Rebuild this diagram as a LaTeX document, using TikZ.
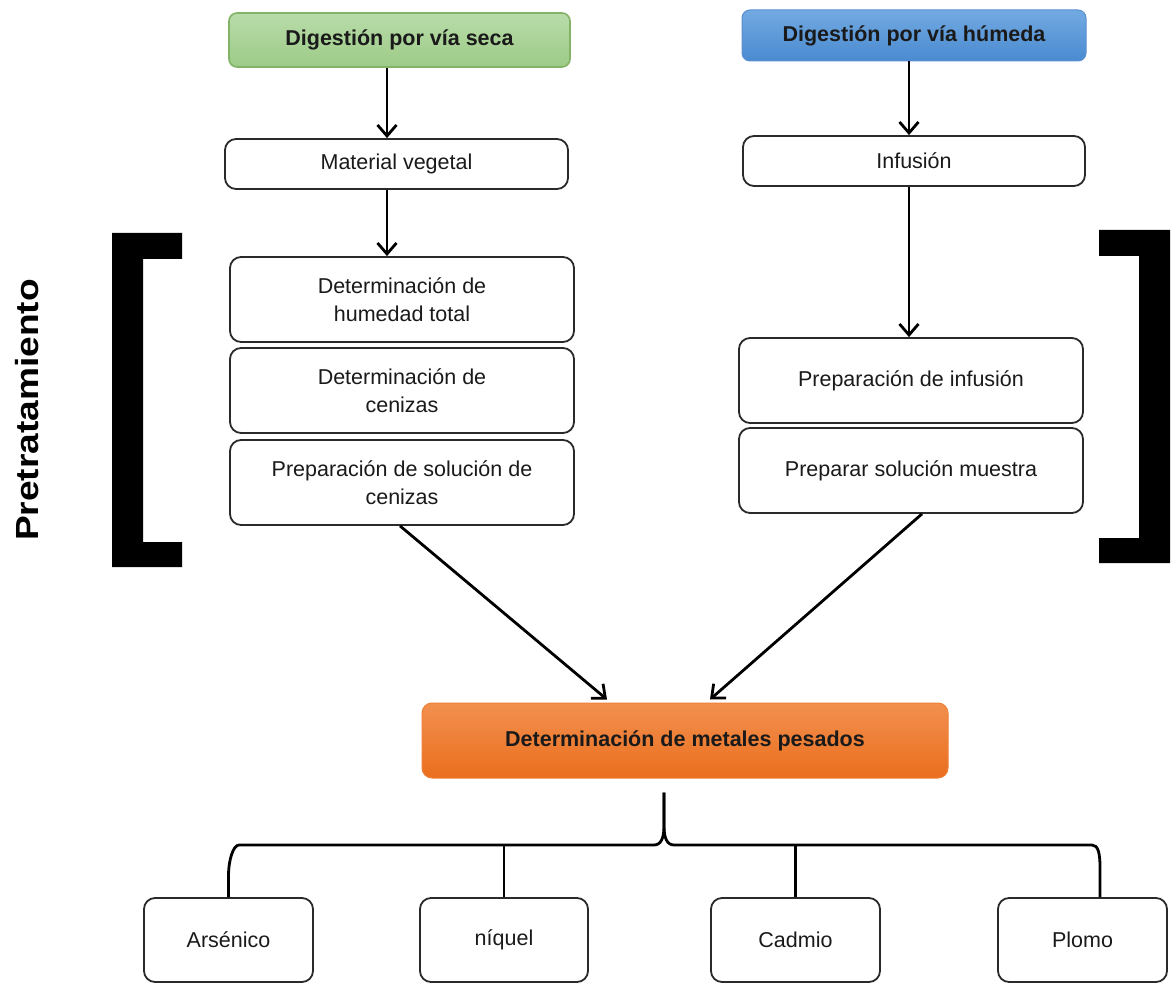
\documentclass[tikz,border=0pt]{standalone}
\usepackage{fontspec}
\setmainfont{Liberation Sans}
\usetikzlibrary{arrows.meta}
\definecolor{gtop}{HTML}{B9DCA9}
\definecolor{gbot}{HTML}{9CCB87}
\definecolor{gbrd}{HTML}{82B366}
\definecolor{btop}{HTML}{72AAE2}
\definecolor{bbot}{HTML}{4A8AD0}
\definecolor{bbrd}{HTML}{5A8FCF}
\definecolor{otop}{HTML}{F2904F}
\definecolor{obot}{HTML}{EA6E1D}
\definecolor{obrd}{HTML}{EE8038}
\definecolor{boxline}{HTML}{2A2A2A}
\definecolor{txt}{HTML}{1A1A1A}
\tikzset{
  basebox/.style={rectangle, inner sep=0pt, align=center, text=txt,
    font=\fontsize{21.5}{28}\selectfont},
  wbox/.style={basebox, draw=boxline, line width=1.8pt, fill=white, rounded corners=11pt},
  gbox/.style={basebox, draw=gbrd, line width=1.6pt, top color=gtop, bottom color=gbot,
    rounded corners=8pt, font=\fontsize{21.5}{28}\selectfont\bfseries},
  bbox/.style={basebox, draw=bbrd, line width=1pt, top color=btop, bottom color=bbot,
    rounded corners=8pt, font=\fontsize{21.5}{28}\selectfont\bfseries},
  obox/.style={basebox, draw=obrd, line width=1pt, top color=otop, bottom color=obot,
    rounded corners=10pt, font=\fontsize{21.5}{28}\selectfont\bfseries},
  arr/.style={line width=2.8pt, -{Straight Barb[length=11pt,width=19pt]}},
  conn/.style={line width=2.8pt},
  bracket/.style={fill=black, draw=none},
}
\begin{document}
\begin{tikzpicture}[x=1pt,y=-1pt]
\useasboundingbox (0,0) rectangle (1171,984);

% top boxes
\node[gbox, minimum width=341pt, minimum height=54pt] (seca) at (399.5,40) {Digestión por vía seca};
\node[bbox, minimum width=344pt, minimum height=51pt] (humeda) at (914,35.5) {Digestión por vía húmeda};
\node[wbox, minimum width=343pt, minimum height=50pt] (matveg) at (396.5,164) {Material vegetal};
\node[wbox, minimum width=342pt, minimum height=50pt] (infusion) at (914,161) {Infusión};

% left column
\node[wbox, minimum width=344pt, minimum height=85pt] (hum) at (402,299.5) {Determinación de\\humedad total};
\node[wbox, minimum width=344pt, minimum height=85pt] (cen) at (402,390.5) {Determinación de\\cenizas};
\node[wbox, minimum width=344pt, minimum height=85pt] (prepsol) at (402,482.5) {Preparación de solución de\\cenizas};

% right column
\node[wbox, minimum width=344pt, minimum height=85pt] (prepinf) at (911,380.5) {Preparación de infusión};
\node[wbox, minimum width=344pt, minimum height=85pt] (prepmue) at (911,470.5) {Preparar solución muestra};

% metales
\node[obox, minimum width=526pt, minimum height=75pt] (metales) at (685,740.5) {Determinación de metales pesados};

% bottom boxes
\node[wbox, minimum width=169pt, minimum height=84pt] (ars) at (228.5,940) {Arsénico};
\node[wbox, minimum width=168pt, minimum height=84pt] (niq) at (504,940) {níquel};
\node[wbox, minimum width=169pt, minimum height=84pt] (cad) at (795.5,940) {Cadmio};
\node[wbox, minimum width=169pt, minimum height=84pt] (plo) at (1082.5,940) {Plomo};

% pretratamiento label
\node[rotate=90, inner sep=0pt, text=black] (pre) at (27,410)
  {\scalebox{1.16}[1]{\fontsize{32}{36}\selectfont\bfseries Pretratamiento}};

% brackets
\fill[bracket] (112,233) -- (182,233) -- (182,259) -- (143,259) -- (143,542)
  -- (182,542) -- (182,567) -- (112,567) -- cycle;
\fill[bracket] (1099,230) -- (1170,230) -- (1170,563) -- (1099,563) -- (1099,538)
  -- (1139,538) -- (1139,256) -- (1099,256) -- cycle;

% arrows
\draw[arr] ([xshift=-12.5pt]seca.south) -- ([xshift=-9.5pt]matveg.north);
\draw[arr] ([xshift=-9.5pt]matveg.south) -- ([xshift=-15pt]hum.north);
\draw[arr] ([xshift=-5pt]humeda.south) -- ([xshift=-5pt]infusion.north);
\draw[arr] ([xshift=-5pt]infusion.south) -- ([xshift=-2pt]prepinf.north);
\draw[arr] ([xshift=-2pt]prepsol.south) -- ([xshift=-78pt,yshift=3pt]metales.north);
\draw[arr] ([xshift=11pt]prepmue.south) -- ([xshift=25pt,yshift=3pt]metales.north);

% brace connector
\coordinate (bt) at ([xshift=-21pt,yshift=-14pt]metales.south);
\coordinate (hl) at (664,845);
\coordinate (pr) at ([xshift=17.5pt]plo.north);
\draw[conn] (ars.north) -- ++(0,-22) .. controls +(0,-14) and +(-6,0) .. (239,845)
  -- (654,845) .. controls +(7,0) and +(0,12) .. (664,826) -- (bt);
\draw[conn] (bt) -- (664,826) .. controls +(0,12) and +(-7,0) .. (674,845)
  -- (1092,845) .. controls +(6,0) and +(0,-14) .. (1100,867) -- (pr);
\draw[conn] (niq.north) -- (niq.north |- hl);
\draw[conn] (cad.north) -- (cad.north |- hl);
\end{tikzpicture}
\end{document}
